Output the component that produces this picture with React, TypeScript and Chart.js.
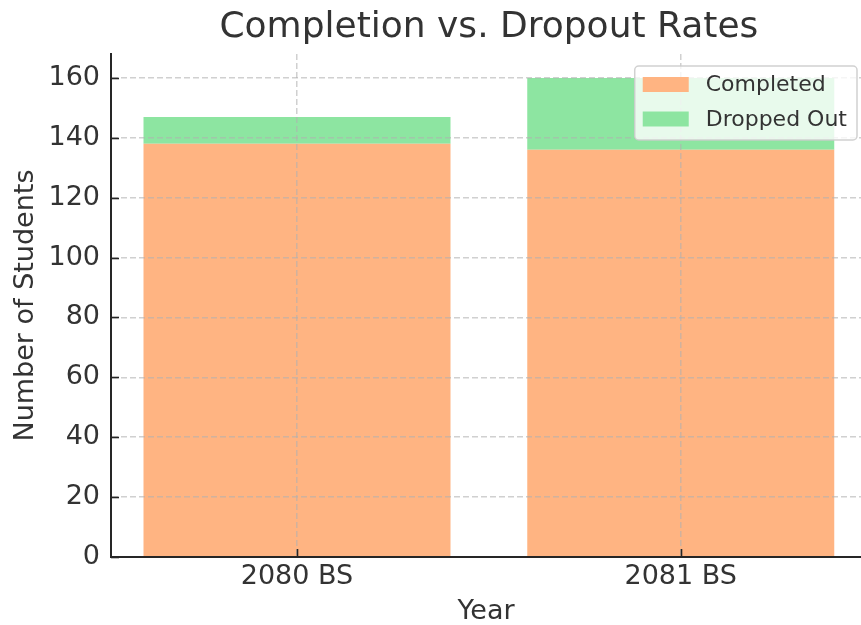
import React, { useEffect, useRef } from "react";
import { Chart, registerables } from "chart.js";

Chart.register(...registerables);

const categories = ["2080 BS", "2081 BS"];
const completed = [138, 136];
const droppedOut = [9, 24];
const yTicks = [0, 20, 40, 60, 80, 100, 120, 140, 160];
const yMax = 168;
const chartTitle = "Completion vs. Dropout Rates";
const xTitle = "Year";
const yTitle = "Number of Students";
const seriesNames = ["Completed", "Dropped Out"];
const seriesColors = ["#ffb482", "#8de5a1"];

const FONT = "'DejaVu Sans', sans-serif";
const TEXT = "#333333";
const SPINE = "#262626";
const GRID = "rgba(176,176,176,0.6)";

const overlayPlugin = {
  id: "overlay",
  afterDraw(chart: any) {
    const ctx = chart.ctx as CanvasRenderingContext2D;
    const { left, right, top, bottom } = chart.chartArea;
    const xs = chart.scales.x;
    const ys = chart.scales.y;
    ctx.save();

    // inward tick marks
    ctx.strokeStyle = SPINE;
    ctx.lineWidth = 1.6;
    ctx.setLineDash([]);
    ys.ticks.forEach((t: any) => {
      const y = Math.round(ys.getPixelForValue(t.value)) + 0.5;
      ctx.beginPath();
      ctx.moveTo(left, y);
      ctx.lineTo(left + 8, y);
      ctx.stroke();
    });
    xs.ticks.forEach((t: any) => {
      const x = Math.round(xs.getPixelForValue(t.value)) + 0.5;
      ctx.beginPath();
      ctx.moveTo(x, bottom);
      ctx.lineTo(x, bottom - 8);
      ctx.stroke();
    });

    // title
    ctx.fillStyle = TEXT;
    ctx.font = `36px ${FONT}`;
    ctx.textAlign = "center";
    ctx.textBaseline = "middle";
    const cx =
      (xs.getPixelForValue(0) + xs.getPixelForValue(categories.length - 1)) / 2;
    ctx.fillText(chartTitle, cx, 28);

    // legend
    ctx.font = `22px ${FONT}`;
    const datasets = chart.data.datasets;
    let maxW = 0;
    datasets.forEach((d: any) => {
      maxW = Math.max(maxW, ctx.measureText(d.label).width);
    });
    const padL = 8;
    const swW = 46;
    const swH = 15;
    const gap = 17;
    const padR = 10;
    const rowH = 34.5;
    const boxW = padL + swW + gap + maxW + padR;
    const boxH = 74;
    const bx = right - 4 - boxW;
    const by = top + 12;
    ctx.beginPath();
    (ctx as any).roundRect(bx, by, boxW, boxH, 4);
    ctx.fillStyle = "rgba(255,255,255,0.8)";
    ctx.fill();
    ctx.strokeStyle = "rgba(204,204,204,0.9)";
    ctx.lineWidth = 1.5;
    ctx.stroke();
    datasets.forEach((d: any, i: number) => {
      const cy = by + 18.5 + i * rowH;
      ctx.fillStyle = d.backgroundColor;
      ctx.fillRect(bx + padL, cy - swH / 2, swW, swH);
      ctx.fillStyle = TEXT;
      ctx.textAlign = "left";
      ctx.textBaseline = "middle";
      ctx.fillText(d.label, bx + padL + swW + gap, cy + 1);
    });

    ctx.restore();
  },
};

export default function App() {
  const canvasRef = useRef<HTMLCanvasElement | null>(null);

  useEffect(() => {
    if (!canvasRef.current) return;
    const seriesValues = [completed, droppedOut];
    const chart = new Chart(canvasRef.current, {
      type: "bar",
      data: {
        datasets: seriesNames.map((name, si) => ({
          label: name,
          data: categories.map((_, i) => ({ x: i, y: seriesValues[si][i] })),
          backgroundColor: seriesColors[si],
          borderWidth: 0,
          barPercentage: 0.8,
          categoryPercentage: 1,
        })),
      },
      options: {
        responsive: false,
        animation: false,
        devicePixelRatio: 1,
        layout: { padding: { top: 54, left: 0, right: 0, bottom: 0 } },
        plugins: {
          legend: { display: false },
          title: { display: false },
          tooltip: { enabled: false },
        },
        scales: {
          x: {
            type: "linear",
            stacked: true,
            offset: false,
            min: -0.4847,
            max: 1.4697,
            afterBuildTicks: (s: any) => {
              s.ticks = categories.map((_, i) => ({ value: i }));
            },
            afterFit: (s: any) => {
              s.height = 68;
            },
            ticks: {
              color: TEXT,
              font: { family: FONT, size: 27 },
              padding: 4,
              maxRotation: 0,
              callback: (v: any) => categories[Math.round(Number(v))] ?? "",
            },
            grid: {
              color: GRID,
              lineWidth: 1.5,
              drawTicks: false,
              offset: false,
              z: 1,
            },
            border: { display: true, color: SPINE, width: 2, dash: [6, 3], z: 2 },
            title: {
              display: true,
              text: xTitle,
              color: TEXT,
              font: { family: FONT, size: 27, lineHeight: 1 },
              padding: { top: 0, bottom: 0 },
            },
          },
          y: {
            stacked: true,
            min: 0,
            max: yMax,
            afterBuildTicks: (s: any) => {
              s.ticks = yTicks.map((v) => ({ value: v }));
            },
            afterFit: (s: any) => {
              s.width = 111;
            },
            ticks: {
              color: TEXT,
              font: { family: FONT, size: 27 },
              padding: 11,
            },
            grid: {
              color: GRID,
              lineWidth: 1.5,
              drawTicks: false,
              z: 1,
            },
            border: { display: true, color: SPINE, width: 2, dash: [6, 3], z: 2 },
            title: {
              display: true,
              text: yTitle,
              color: TEXT,
              font: { family: FONT, size: 27, lineHeight: 1 },
              padding: { top: 12, bottom: 0 },
            },
          },
        },
      },
      plugins: [overlayPlugin],
    } as any);
    return () => chart.destroy();
  }, []);

  return (
    <div style={{ position: "absolute", left: 0, top: 0, width: 861, height: 625 }}>
      <canvas ref={canvasRef} width={861} height={625} />
    </div>
  );
}
